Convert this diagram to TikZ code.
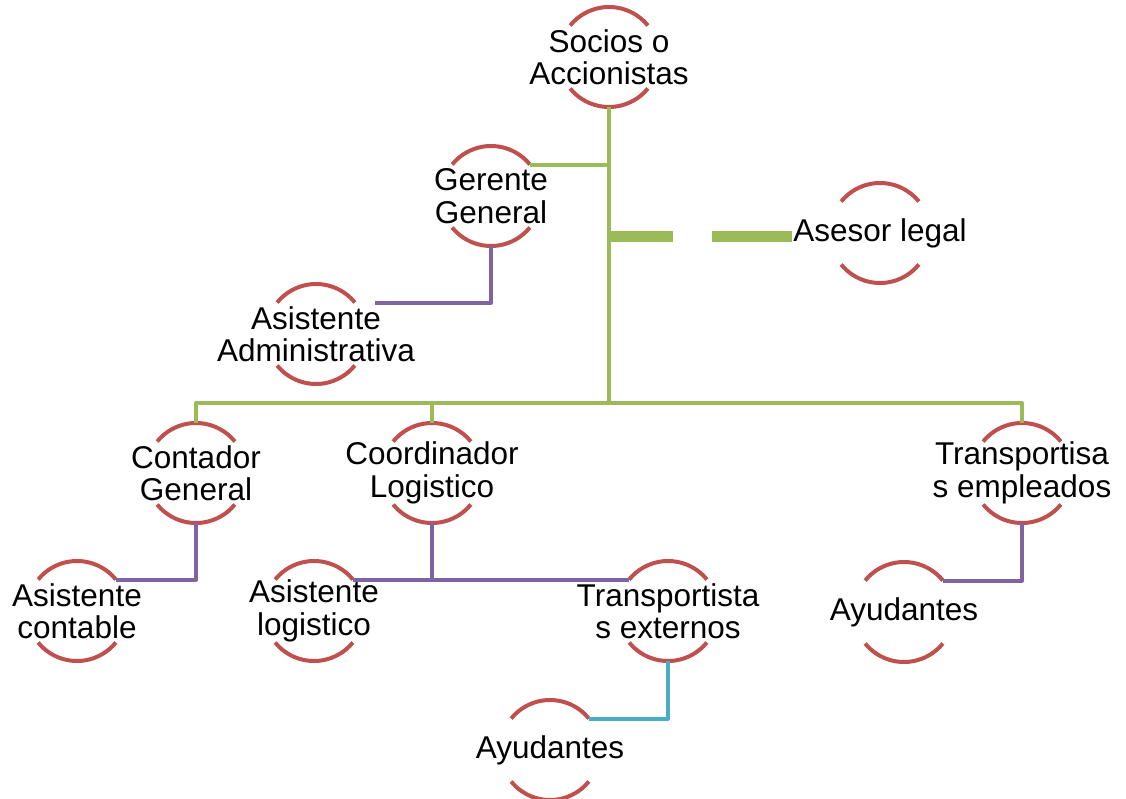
\documentclass[tikz,border=0pt]{standalone}
\usepackage{fontspec}
\setmainfont{Liberation Sans}
\definecolor{ringred}{HTML}{C0504D}
\definecolor{lvlgreen}{HTML}{9BBB59}
\definecolor{lvlpurple}{HTML}{8064A2}
\definecolor{lvlblue}{HTML}{4BACC6}

\begin{document}
\begin{tikzpicture}[x=1pt,y=1pt,
  caption/.style={align=center, inner sep=0pt, font=\fontsize{31.5}{32.5}\selectfont},
  member/.style={circle, minimum size=100pt, inner sep=0pt, outer sep=0pt, label={[caption]center:#1}},
  ring/.style={ringred, line width=4pt},
  link/.style={line width=4pt, line join=round},
  legal/.style={lvlgreen, line width=11pt, dash pattern=on 80pt off 39pt, dash phase=16pt}]
\useasboundingbox (0,0) rectangle (1126,-799);
% people
\node[member={Socios o\\Accionistas}] (socios) at (609,-57) {};
\node[member={Gerente\\General}] (gerente) at (491,-196) {};
\node[member={Asesor legal}] (asesor) at (880,-233) {};
\node[member={Asistente\\Administrativa}] (admin) at (316,-334) {};
\node[member={Contador\\General}] (contador) at (196,-473) {};
\node[member={Coordinador\\Logistico}] (coord) at (432,-473) {};
\node[member={Transportisa\\s empleados}] (transemp) at (1022,-473) {};
\node[member={Asistente\\contable}] (contable) at (77,-611) {};
\node[member={Asistente\\logistico}] (asislog) at (314,-611) {};
\node[member={Transportista\\s externos}] (transext) at (668,-611) {};
\node[member={Ayudantes}] (ayud-emp) at (904,-612) {};
\node[member={Ayudantes}] (ayud-ext) at (550,-750) {};
\foreach \n in {socios,gerente,asesor,admin,contador,coord,transemp,contable,asislog,transext,ayud-emp,ayud-ext}
  \draw[ring] (\n.39) arc[start angle=39, end angle=141, radius=50pt]
              (\n.219) arc[start angle=219, end angle=321, radius=50pt];
% first level
\coordinate (hub) at (609,-403);
\coordinate (legal-end) at (792,-237);
\draw[link, lvlgreen] (socios.south) -- (hub);
\draw[link, lvlgreen] (contador.north) |- (hub) -| (transemp.north);
\draw[link, lvlgreen] (coord.north) -- (coord.north |- hub);
\draw[link, lvlgreen] (gerente.39) -- (gerente.39 -| hub);
\draw[legal] (legal-end -| hub) -- (legal-end);
% second level
\draw[link, lvlpurple, shorten >=20pt] (gerente.south) |- (admin.39);
\draw[link, lvlpurple] (contador.south) |- (contable.39);
\draw[link, lvlpurple] (asislog.39) -- (transext.141);
\draw[link, lvlpurple] (coord.south) -- (coord.south |- asislog.39);
\draw[link, lvlpurple] (transemp.south) |- (ayud-emp.39);
% third level
\draw[link, lvlblue] (transext.south) |- (ayud-ext.39);
\end{tikzpicture}
\end{document}
